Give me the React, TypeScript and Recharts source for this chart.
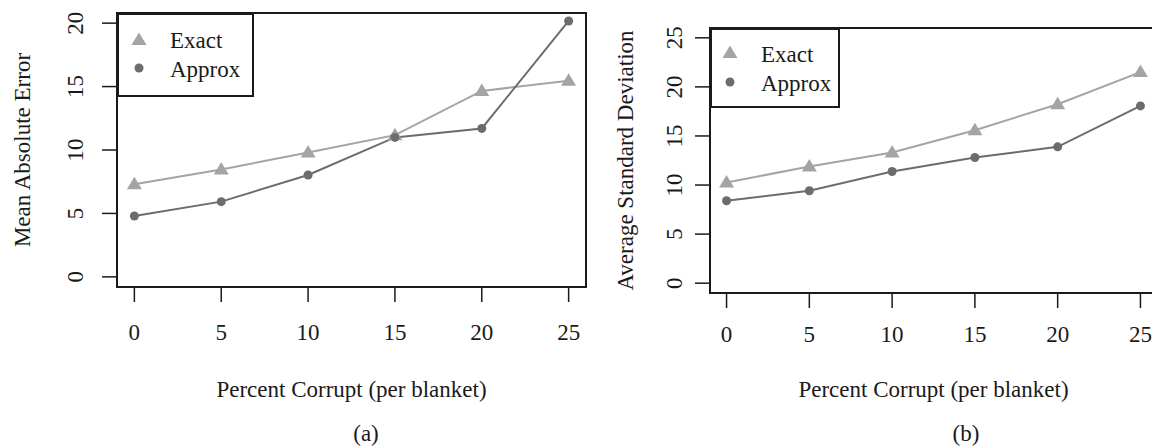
import React from 'react';
import { LineChart, Line, XAxis, YAxis, Legend, ReferenceArea } from 'recharts';

const percentCorrupt = [0, 5, 10, 15, 20, 25];
const xTicks = [0, 5, 10, 15, 20, 25];

// (a) Mean Absolute Error
const exactMAE = [7.3, 8.47, 9.8, 11.17, 14.66, 15.45];
const approxMAE = [4.8, 5.93, 8.03, 10.99, 11.7, 20.17];
const yTicksA = [0, 5, 10, 15, 20];

// (b) Average Standard Deviation
const exactSD = [10.26, 11.89, 13.31, 15.59, 18.23, 21.51];
const approxSD = [8.4, 9.42, 11.38, 12.8, 13.89, 18.06];
const yTicksB = [0, 5, 10, 15, 20, 25];

const seriesNames = ['Exact', 'Approx'];
const xTitle = 'Percent Corrupt (per blanket)';

const FONT = '"Liberation Serif", "Times New Roman", serif';
const INK = '#1a1a1a';
const EXACT = '#a4a4a4';
const APPROX = '#6c6c6c';

const rows = (exact: number[], approx: number[]) =>
  percentCorrupt.map((x, i) => ({ x, exact: exact[i], approx: approx[i] }));

const Triangle = (props: any) => {
  const { cx, cy } = props;
  if (cx == null || cy == null) return null;
  return <path d={`M${cx},${cy - 7.5} L${cx - 7.5},${cy + 5} L${cx + 7.5},${cy + 5} Z`} fill={EXACT} />;
};

const Dot = (props: any) => {
  const { cx, cy } = props;
  if (cx == null || cy == null) return null;
  return <circle cx={cx} cy={cy} r={4.5} fill={APPROX} />;
};

interface PanelProps {
  width: number;
  plotLeft: number;
  plotRight: number;
  plotTop: number;
  plotBottom: number;
  yDomain: [number, number];
  yTicks: number[];
  exact: number[];
  approx: number[];
  yTitle: string;
  yTitleX: number;
  yTickX: number;
  xTickY: number;
  legendBox: { left: number; top: number; width: number; height: number; symX: number; textX: number; row1: number; row2: number; base1: number; base2: number };
}

const Panel: React.FC<PanelProps> = (p) => {
  const data = rows(p.exact, p.approx);
  const lb = p.legendBox;
  const xAxisHeight = 60;

  const xTick = (t: any) => (
    <text x={t.x} y={p.xTickY} textAnchor="middle" fontFamily={FONT} fontSize={23} fill={INK}>
      {t.payload.value}
    </text>
  );
  const yTick = (t: any) => (
    <text
      x={p.yTickX}
      y={t.y}
      transform={`rotate(-90 ${p.yTickX} ${t.y})`}
      textAnchor="middle"
      fontFamily={FONT}
      fontSize={23}
      fill={INK}
    >
      {t.payload.value}
    </text>
  );

  const legendContent = () => (
    <div style={{ width: lb.width, height: lb.height, border: `2px solid ${INK}`, boxSizing: 'border-box', background: '#fff' }}>
      <svg width={lb.width - 4} height={lb.height - 4} style={{ display: 'block' }}>
        <Triangle cx={lb.symX - 2} cy={lb.row1 - 2} />
        <Dot cx={lb.symX - 2} cy={lb.row2 - 2} />
        <text x={lb.textX - 2} y={lb.base1 - 2} fontFamily={FONT} fontSize={23} fill={INK}>{seriesNames[0]}</text>
        <text x={lb.textX - 2} y={lb.base2 - 2} fontFamily={FONT} fontSize={23} fill={INK}>{seriesNames[1]}</text>
      </svg>
    </div>
  );

  return (
    <LineChart
      width={p.width}
      height={447}
      data={data}
      margin={{ top: p.plotTop, right: p.width - p.plotRight, bottom: 447 - p.plotBottom - xAxisHeight, left: 0 }}
      style={{ overflow: 'visible' }}
    >
      <XAxis
        dataKey="x"
        type="number"
        domain={[-1, 26]}
        ticks={xTicks}
        allowDataOverflow
        height={xAxisHeight}
        axisLine={false}
        tickSize={15}
        tickLine={{ stroke: INK, strokeWidth: 1.5 }}
        tick={xTick}
        label={{
          content: (lp: any) => {
            const vb = lp.viewBox || {};
            return (
              <text x={(vb.x ?? 0) + (vb.width ?? 0) / 2} y={397} textAnchor="middle" fontFamily={FONT} fontSize={23} fill={INK}>
                {xTitle}
              </text>
            );
          },
        }}
      />
      <YAxis
        type="number"
        domain={p.yDomain}
        ticks={p.yTicks}
        allowDataOverflow
        width={p.plotLeft}
        axisLine={false}
        tickSize={15}
        tickLine={{ stroke: INK, strokeWidth: 1.5 }}
        tick={yTick}
        label={{
          content: () => {
            const cy = (p.plotTop + p.plotBottom) / 2;
            return (
              <text
                x={p.yTitleX}
                y={cy}
                transform={`rotate(-90 ${p.yTitleX} ${cy})`}
                textAnchor="middle"
                fontFamily={FONT}
                fontSize={23}
                fill={INK}
              >
                {p.yTitle}
              </text>
            );
          },
        }}
      />
      <ReferenceArea
        x1={-1}
        x2={26}
        y1={p.yDomain[0]}
        y2={p.yDomain[1]}
        fill="none"
        stroke={INK}
        strokeWidth={2}
        ifOverflow="visible"
      />
      <Line
        type="linear"
        dataKey="exact"
        name={seriesNames[0]}
        stroke={EXACT}
        strokeWidth={2}
        dot={<Triangle />}
        activeDot={false}
        isAnimationActive={false}
      />
      <Line
        type="linear"
        dataKey="approx"
        name={seriesNames[1]}
        stroke={APPROX}
        strokeWidth={2}
        dot={<Dot />}
        activeDot={false}
        isAnimationActive={false}
      />
      <Legend
        layout="vertical"
        align="center"
        verticalAlign="middle"
        content={legendContent}
        wrapperStyle={{ left: lb.left, top: lb.top, width: lb.width, height: lb.height, right: 'auto', bottom: 'auto' }}
      />
    </LineChart>
  );
};

export default function App() {
  return (
    <div style={{ position: 'absolute', left: 0, top: 0, width: 1152, height: 447, overflow: 'hidden', background: '#fff' }}>
      <div style={{ position: 'absolute', left: 0, top: 0 }}>
        <Panel
          width={600}
          plotLeft={117}
          plotRight={586}
          plotTop={13}
          plotBottom={287}
          yDomain={[-0.8, 20.8]}
          yTicks={yTicksA}
          exact={exactMAE}
          approx={approxMAE}
          yTitle="Mean Absolute Error"
          yTitleX={30}
          yTickX={83}
          xTickY={340}
          legendBox={{ left: 117, top: 13, width: 137, height: 84, symX: 22, textX: 53, row1: 27, row2: 55, base1: 35, base2: 64 }}
        />
      </div>
      <div style={{ position: 'absolute', left: 580, top: 0 }}>
        <Panel
          width={590}
          plotLeft={130}
          plotRight={577}
          plotTop={28}
          plotBottom={293}
          yDomain={[-1, 26]}
          yTicks={yTicksB}
          exact={exactSD}
          approx={approxSD}
          yTitle="Average Standard Deviation"
          yTitleX={53}
          yTickX={102}
          xTickY={342}
          legendBox={{ left: 130, top: 28, width: 130, height: 80, symX: 20, textX: 51, row1: 25, row2: 54, base1: 34, base2: 63 }}
        />
      </div>
      <svg width={1152} height={447} style={{ position: 'absolute', left: 0, top: 0, pointerEvents: 'none' }}>
        <text x={366} y={441} textAnchor="middle" fontFamily={FONT} fontSize={23} fill={INK}>(a)</text>
        <text x={966} y={441} textAnchor="middle" fontFamily={FONT} fontSize={23} fill={INK}>(b)</text>
      </svg>
    </div>
  );
}
